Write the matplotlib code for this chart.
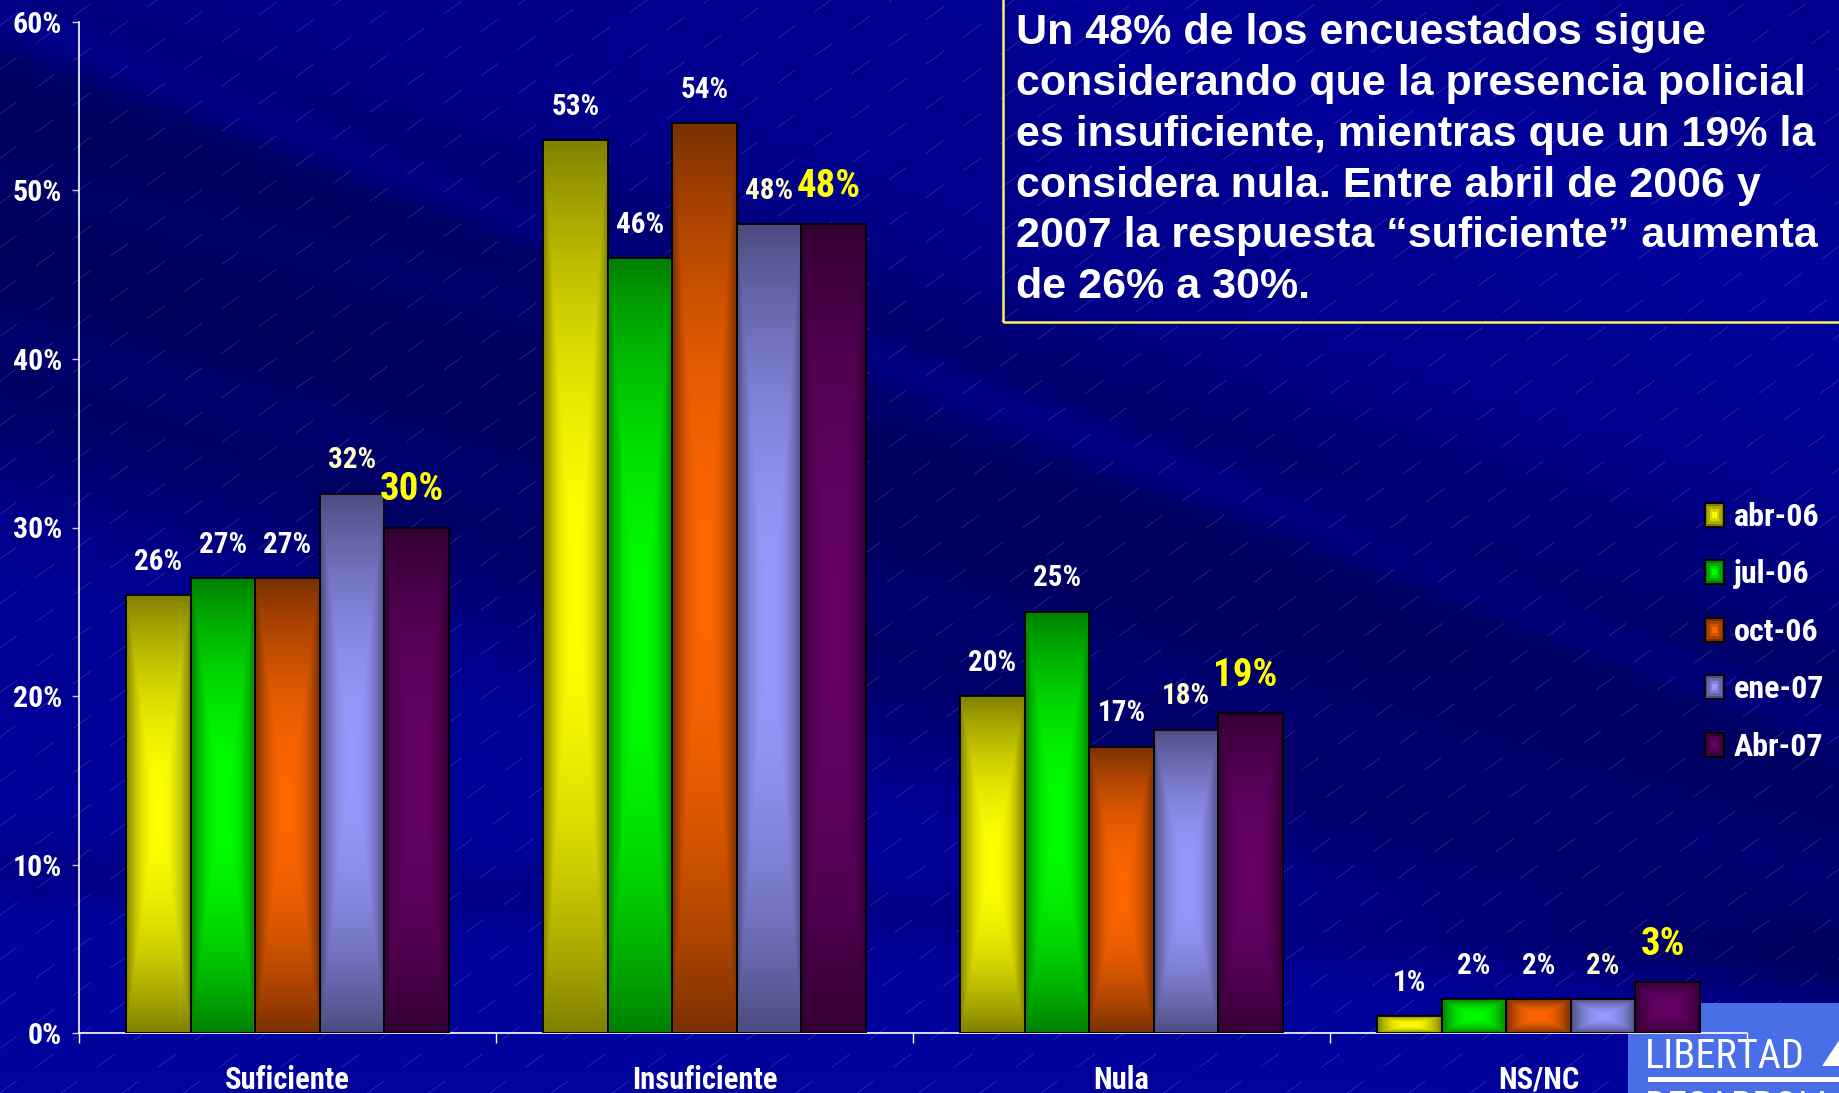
import numpy as np
import matplotlib
matplotlib.use("Agg")
import matplotlib.pyplot as plt
from matplotlib import font_manager
from matplotlib.patches import Rectangle, Polygon
from matplotlib.collections import LineCollection
from matplotlib.legend_handler import HandlerBase

# ---------------- data ----------------
categories = ["Suficiente", "Insuficiente", "Nula", "NS/NC"]
series_names = ["abr-06", "jul-06", "oct-06", "ene-07", "Abr-07"]
abr06 = [26, 53, 20, 1]
jul06 = [27, 46, 25, 2]
oct06 = [27, 54, 17, 2]
ene07 = [32, 48, 18, 2]
abr07 = [30, 48, 19, 3]
y_ticks = [0, 10, 20, 30, 40, 50, 60]
y_tick_labels = ["0%", "10%", "20%", "30%", "40%", "50%", "60%"]
note_lines = [
    "Un 48% de los encuestados sigue",
    "considerando que la presencia policial",
    "es insuficiente, mientras que un 19% la",
    "considera nula. Entre abril de 2006 y",
    "2007 la respuesta \u201csuficiente\u201d aumenta",
    "de 26% a 30%.",
]
logo_top = "LIBERTAD"
logo_bottom = "DESARROLLO"

series = [abr06, jul06, oct06, ene07, abr07]
dark_cols = [(128, 128, 0), (0, 128, 0), (122, 48, 0), (76, 76, 128), (51, 0, 51)]
bright_cols = [(255, 255, 0), (0, 255, 0), (255, 102, 0), (153, 153, 255), (102, 0, 102)]
label_cols = ["white", "white", "white", "#ffffcc", "#ffff00"]

# ---------------- fonts ----------------
avail = {f.name for f in font_manager.fontManager.ttflist}
FONT = None
for cand in ["Liberation Sans Narrow", "Arial Narrow", "Roboto Condensed", "Open Sans Condensed"]:
    if cand in avail:
        FONT = cand
        break
if FONT is None:
    FONT = "Liberation Sans"
    K = 0.86
else:
    K = 1.0
plt.rcParams["font.family"] = [FONT, "DejaVu Sans"]
plt.rcParams["font.weight"] = "bold"
NOTE_FONT = ["Liberation Sans", "DejaVu Sans"]
LOGO_FONT = [FONT, "Liberation Sans", "DejaVu Sans"]

W, H = 1840, 1093
fig = plt.figure(figsize=(W / 100, H / 100), dpi=100)

# ---------------- background ----------------
bg = fig.add_axes([0, 0, 1, 1], zorder=0)
yy, xx = np.mgrid[0:H, 0:W].astype(float)


def band(x0, y0, x1, y1, half, soft):
    dx, dy = x1 - x0, y1 - y0
    L = np.hypot(dx, dy)
    d = ((xx - x0) * dy - (yy - y0) * dx) / L
    return 1.0 / (1.0 + np.exp((np.abs(d) - half) / soft))


blue = 140 + 16 * (yy / H)
blue -= 52 * band(0, 240, 1840, 800, 210, 35)
blue += 14 * band(0, 330, 1840, 880, 25, 10)
blue += 12 * band(0, 180, 1840, 620, 30, 12)
blue += 28 * band(1290, 516, 1840, 728, 18, 8)
blue -= 18 * band(0, 868, 1840, 960, 26, 10)
blue += 12 * band(1100, 0, 1840, 300, 60, 25)
blue = np.clip(blue, 0, 255)
rg = np.clip((blue - 150) * 0.7, 0, 22)
img = np.dstack([rg * 0.2, rg, blue]) / 255.0
bg.imshow(img, extent=[0, W, 0, H], origin="upper", aspect="auto", interpolation="bilinear")

# faint dashed diagonal lines
ang = np.deg2rad(36)
dvec = np.array([np.cos(ang), np.sin(ang)])
nvec = np.array([-np.sin(ang), np.cos(ang)])
segs = []
for k in range(-60, 40):
    c = k * 36.0
    p = c * nvec
    segs.append([p - 4000 * dvec, p + 4000 * dvec])
bg.add_collection(LineCollection(segs, colors=(0.85, 0.85, 1.0, 0.22), linewidths=0.5,
                                 linestyles=[(0, (32, 34))]))

# logo block
bg.add_patch(Rectangle((1628, 0), W - 1628, H - 1003, facecolor="#4a6ee6", edgecolor="none", zorder=3))
bg.text(1645, H - 1068, logo_top, color="white", fontsize=29, fontweight="normal",
        family=LOGO_FONT, ha="left", va="baseline", zorder=4)
bg.add_patch(Polygon([[1822, H - 1066], [1846, H - 1030], [1846, H - 1066]], closed=True,
                     facecolor="white", edgecolor="none", zorder=4))
bg.add_patch(Rectangle((1648, H - 1082), W - 1648, 5, facecolor="white", edgecolor="none", zorder=4))
bg.text(1645, H - 1089, logo_bottom, color="white", fontsize=29, fontweight="normal",
        family=LOGO_FONT, ha="left", va="top", zorder=4)
bg.set_xlim(0, W)
bg.set_ylim(0, H)
bg.axis("off")

# ---------------- main axes ----------------
ax = fig.add_axes([79 / W, 1 - 1033 / H, (1747 - 79) / W, (1033 - 22) / H], zorder=2)
ax.patch.set_alpha(0)

x = np.arange(len(categories))
bw = 0.1547


def grad_img(dark, bright, ny=240, nx=64):
    u = np.abs(np.linspace(-1, 1, nx))[None, :]
    v = np.abs(np.linspace(-1, 1, ny))[:, None]
    fu = 1 - u ** 2.2
    fv = 1 - v ** 2.0
    f = np.minimum(fu, fv)
    f = np.clip(f, 0, 1)[..., None]
    d = np.array(dark) / 255.0
    b = np.array(bright) / 255.0
    return d + (b - d) * f


for i, vals in enumerate(series):
    xs = x + (i - 2) * bw
    mid = tuple((np.array(dark_cols[i]) + np.array(bright_cols[i])) / 2 / 255.0)
    bars = ax.bar(xs, vals, bw, facecolor=mid, edgecolor="black", linewidth=1.3, zorder=3,
                  label=series_names[i])
    g = grad_img(dark_cols[i], bright_cols[i])
    for p in bars.patches:
        x0, w, h = p.get_x(), p.get_width(), p.get_height()
        im = ax.imshow(g, extent=[x0, x0 + w, 0, h], aspect="auto", zorder=3.5,
                       interpolation="bilinear", origin="upper")
        im.set_clip_path(p)
        ax.add_patch(Rectangle((x0, 0), w, h, facecolor="none", edgecolor="black",
                               linewidth=1.3, zorder=4))
    last = i == len(series) - 1
    for xv, v in zip(xs, vals):
        ax.annotate(f"{v}%", (xv, v), xytext=(-3.5 if last else 0, 27 if last else 24),
                    textcoords="offset points",
                    ha="center", va="center", color=label_cols[i],
                    fontsize=(28 if last else 21) * K, fontweight="bold", zorder=5)

ax.set_xlim(-0.5, len(categories) - 0.5)
ax.set_ylim(0, 60)
ax.set_yticks(y_ticks)
ax.set_yticklabels(y_tick_labels)
ax.set_xticks(x)
ax.set_xticklabels(categories)
ax.set_xticks(np.arange(-0.5, len(categories), 1.0), minor=True)
ax.tick_params(axis="x", which="major", length=0, pad=23, labelsize=22 * K, labelcolor="white")
ax.tick_params(axis="x", which="minor", length=7, width=1.0, color="white", direction="out")
ax.tick_params(axis="y", length=5, width=1.0, color="#c8c8d8", pad=7, labelsize=21.5 * K,
               labelcolor="white")
for lab in ax.get_xticklabels() + ax.get_yticklabels():
    lab.set_fontweight("bold")
for s in ["top", "right"]:
    ax.spines[s].set_visible(False)
for s in ["left", "bottom"]:
    ax.spines[s].set_color("white")
    ax.spines[s].set_linewidth(1.2)


# ---------------- legend ----------------
class GradSquare(HandlerBase):
    def __init__(self, dark, bright):
        super().__init__()
        self.dark = np.array(dark) / 255.0
        self.bright = np.array(bright) / 255.0

    def create_artists(self, legend, orig_handle, xdescent, ydescent, width, height, fontsize, trans):
        arts = []
        n = 4
        for j in range(n):
            f = j / (n - 1)
            col = self.dark + (self.bright - self.dark) * f
            sx = width * (1 - j / n)
            sy = height * (1 - j / n)
            r = Rectangle((-xdescent + (width - sx) / 2, -ydescent + (height - sy) / 2), sx, sy,
                          facecolor=col, edgecolor="black" if j == 0 else "none",
                          linewidth=1.3 if j == 0 else 0, transform=trans)
            arts.append(r)
        return arts


handles, labels = ax.get_legend_handles_labels()
hmap = {h: GradSquare(dark_cols[i], bright_cols[i]) for i, h in enumerate(handles)}
leg = fig.legend(handles, labels, handler_map=hmap, loc="upper left",
                 bbox_to_anchor=(1705 / W, 1 - 502 / H), frameon=False, borderpad=0,
                 borderaxespad=0, fontsize=23 * K, handlelength=0.6, handleheight=0.78,
                 handletextpad=0.3, labelspacing=0.86)
for t in leg.get_texts():
    t.set_color("white")
    t.set_fontweight("bold")
leg.set_zorder(6)

# ---------------- note box ----------------
fig.patches.append(Rectangle((1003 / W, 1 - 322 / H), 1, 1, transform=fig.transFigure,
                             facecolor="none", edgecolor="#f4f460", linewidth=1.8, zorder=5))
fig.text(1016 / W, 1 - 13 / H, "\n".join(note_lines), ha="left", va="top", color="white",
         fontsize=31, fontweight="bold", family=NOTE_FONT, linespacing=1.35, zorder=6)

fig.savefig("out.png", dpi=100)
